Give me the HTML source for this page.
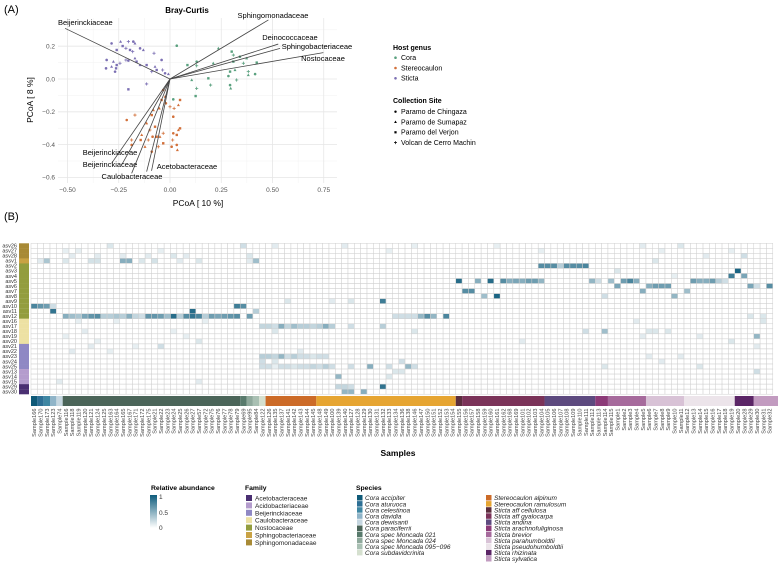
<!DOCTYPE html>
<html><head><meta charset="utf-8"><style>
body{margin:0;background:#fff;}
svg{display:block;font-family:"Liberation Sans",sans-serif;}
</style></head><body>
<svg id="fig" width="778" height="565" viewBox="0 0 778 565" xmlns="http://www.w3.org/2000/svg">
<text x="4" y="13" font-size="11">(A)</text>
<text x="4" y="220" font-size="11">(B)</text>
<g id="pcoa"></g>
<g id="heat"></g>
<g id="legs"></g>
</svg>
<script>
const NS="http://www.w3.org/2000/svg";
function mk(p,t,a,txt){const e=document.createElementNS(NS,t);for(const k in a)e.setAttribute(k,a[k]);if(txt!==undefined)e.textContent=txt;p.appendChild(e);return e;}

// ---------- PCoA data ----------
const xTicks=[-0.5,-0.25,0,0.25,0.5,0.75];
const xTickLabels=["-0.50","-0.25","0.00","0.25","0.50","0.75"];
const yTicks=[0.2,0,-0.2,-0.4,-0.6];
const yTickLabels=["0.2","0.0","-0.2","-0.4","-0.6"];
const genera=["Cora","Stereocaulon","Sticta"];
const genusColors=["#5aa17f","#d2703a","#7b6fb3"];
const sites=["Paramo de Chingaza","Paramo de Sumapaz","Paramo del Verjon","Volcan de Cerro Machin"];
const coraX=[0.033,0.236,0.301,0.309,0.341,0.374,0.423,0.382,0.415,0.317,0.293,0.325,0.285,0.382,0.187,0.198,0.130,0.106,0.085,0.130,0.293,0.296,0.125,0.130,0.016,0.211,0.309,0.358];
const coraY=[0.203,0.187,0.167,0.146,0.136,0.126,0.100,0.045,0.030,0.055,0.045,-0.006,0.018,0.024,0.004,-0.037,0.106,-0.006,0.085,0.081,-0.037,-0.057,-0.104,-0.057,-0.124,0.096,0.106,0.096];
const stereoX=[-0.033,-0.024,-0.041,0.000,-0.020,0.041,0.049,0.020,0.016,-0.052,-0.089,-0.171,-0.211,-0.114,-0.073,-0.098,-0.085,-0.138,-0.143,-0.187,-0.187,-0.049,-0.033,-0.033,0.016,0.041,0.049,0.013,0.033,0.036,0.033,-0.057,-0.089,-0.122,-0.065,-0.106,0.008,-0.081];
const stereoY=[-0.067,-0.108,-0.128,-0.169,-0.148,-0.159,-0.128,-0.179,-0.230,-0.179,-0.220,-0.220,-0.250,-0.270,-0.291,-0.311,-0.352,-0.341,-0.372,-0.372,-0.402,-0.352,-0.392,-0.331,-0.331,-0.311,-0.301,-0.372,-0.402,-0.433,-0.341,-0.413,-0.443,-0.413,-0.352,-0.372,-0.413,-0.189];
const stictaX=[-0.285,-0.241,-0.231,-0.203,-0.179,-0.171,-0.195,-0.182,-0.146,-0.130,-0.260,-0.215,-0.309,-0.276,-0.260,-0.244,-0.312,-0.285,-0.263,-0.215,-0.203,-0.171,-0.163,-0.078,-0.041,-0.073,-0.065,-0.036,-0.024,-0.008,-0.203,-0.114,-0.268,-0.146,-0.114,-0.089];
const stictaY=[0.217,0.228,0.201,0.228,0.228,0.217,0.177,0.167,0.187,0.177,0.177,0.187,0.116,0.106,0.085,0.096,0.065,0.075,0.065,0.116,0.112,0.126,0.106,0.157,0.116,0.075,0.055,0.055,0.035,0.030,-0.063,-0.030,0.045,0.085,0.085,0.045];
const arrowNames=["Beijerinckiaceae","Sphingomonadaceae","Deinococcaceae","Sphingobacteriaceae","Nostocaceae","Beijerinckiaceae","Beijerinckiaceae","Caulobacteraceae","Acetobacteraceae","Acetobacteraceae"];
const arrowX=[-0.512,0.480,0.528,0.537,0.748,-0.285,-0.236,-0.187,-0.114,-0.090];
const arrowY=[0.309,0.360,0.213,0.187,0.161,-0.514,-0.524,-0.575,-0.565,-0.560];
const arrowShowLabel=[1,1,1,1,1,1,1,1,1,0];

const sx=v=>170+v*205, sy=v=>79-v*164;
const P=document.getElementById('pcoa');
mk(P,'text',{x:187,y:13,'font-size':8,'font-weight':'bold','text-anchor':'middle',},'Bray-Curtis');
const px0=58,px1=337,py0=18,py1=183;
for(let i=0;i<xTicks.length;i++){const m=xTicks[i]+0.125;if(sx(m)<px1)mk(P,'line',{x1:sx(m),x2:sx(m),y1:py0,y2:py1,stroke:'#f2f2f2','stroke-width':0.5});}
for(let i=0;i<yTicks.length;i++){const m=yTicks[i]+0.1;mk(P,'line',{x1:px0,x2:px1,y1:sy(m),y2:sy(m),stroke:'#f2f2f2','stroke-width':0.5});}
xTicks.forEach((t,i)=>{
  mk(P,'line',{x1:sx(t),x2:sx(t),y1:py0,y2:py1,stroke:'#e6e6e6','stroke-width':0.8});
  const l=mk(P,'text',{x:sx(t),y:192,'font-size':6.5,fill:'#555','text-anchor':'middle'},xTickLabels[i].replace('-','\u2212'));
  
  
});
yTicks.forEach((t,i)=>{
  mk(P,'line',{x1:px0,x2:px1,y1:sy(t),y2:sy(t),stroke:'#e6e6e6','stroke-width':0.8});
  const l=mk(P,'text',{x:55,y:sy(t)+2.3,'font-size':6.5,fill:'#555','text-anchor':'end'},yTickLabels[i].replace('-','\u2212'));
  
  
});
mk(P,'text',{x:198,y:206,'font-size':8.5,'text-anchor':'middle',},'PCoA [ 10 %]');
mk(P,'text',{x:0,y:0,'font-size':8.5,'text-anchor':'middle',transform:'translate(33,100) rotate(-90)',},'PCoA [ 8 %]');
function pts(xs,ys,col,g){for(let i=0;i<xs.length;i++){const s=i%4,x=sx(xs[i]),y=sy(ys[i]);let e;
  if(s===0)e=mk(P,'circle',{cx:x,cy:y,r:1.3,fill:col});
  else if(s===1)e=mk(P,'path',{d:`M${x},${y-1.6}L${x+1.5},${y+1.1}L${x-1.5},${y+1.1}Z`,fill:col});
  else if(s===2)e=mk(P,'rect',{x:x-1.2,y:y-1.2,width:2.4,height:2.4,fill:col});
  else e=mk(P,'path',{d:`M${x-1.6},${y}H${x+1.6}M${x},${y-1.6}V${y+1.6}`,stroke:col,'stroke-width':0.8});
  
  }}
pts(coraX,coraY,genusColors[0],'cora');pts(stereoX,stereoY,genusColors[1],'stereocaulon');pts(stictaX,stictaY,genusColors[2],'sticta');
const labelPos=[[58,25,'start'],[273,18,'middle'],[290,40,'middle'],[317,49,'middle'],[323,61,'middle'],[110,155,'middle'],[110,167,'middle'],[132,179,'middle'],[187,169,'middle'],[0,0,'middle']];
arrowNames.forEach((n,i)=>{
  const l=mk(P,'line',{x1:sx(0),y1:sy(0),x2:sx(arrowX[i]),y2:sy(arrowY[i]),stroke:'#444','stroke-width':0.8});
  
  
  if(arrowShowLabel[i]){const t=mk(P,'text',{x:labelPos[i][0],y:labelPos[i][1],'font-size':7.5,'text-anchor':labelPos[i][2]},n);
  
  }
});
// legend A
const L=document.getElementById('legs');
mk(L,'text',{x:393,y:50,'font-size':7,'font-weight':'bold',},'Host genus');
genera.forEach((g,i)=>{const y=60+i*10.3;mk(L,'circle',{cx:395.5,cy:y-2.3,r:1.3,fill:genusColors[i]});
  const t=mk(L,'text',{x:401,y:y,'font-size':7},g);
  
  });
mk(L,'text',{x:393,y:103,'font-size':7,'font-weight':'bold',},'Collection Site');
sites.forEach((s,i)=>{const y=114+i*10.3,x=395.5,yy=y-2.3;
  if(i===0)mk(L,'circle',{cx:x,cy:yy,r:1.2,fill:'#000'});
  else if(i===1)mk(L,'path',{d:`M${x},${yy-1.5}L${x+1.4},${yy+1}L${x-1.4},${yy+1}Z`,fill:'#000'});
  else if(i===2)mk(L,'rect',{x:x-1.1,y:yy-1.1,width:2.2,height:2.2,fill:'#000'});
  else mk(L,'path',{d:`M${x-1.5},${yy}H${x+1.5}M${x},${yy-1.5}V${yy+1.5}`,stroke:'#000','stroke-width':0.7});
  const t=mk(L,'text',{x:401,y:y,'font-size':7},s);
  
  });

// ---------- Heatmap data ----------
const asvLabels=["asv26","asv27","asv28","asv1","asv2","asv3","asv4","asv5","asv6","asv7","asv8","asv9","asv10","asv11","asv12","asv16","asv17","asv18","asv19","asv20","asv21","asv22","asv23","asv24","asv25","asv13","asv14","asv15","asv29","asv30"];
const families=["Acetobacteraceae","Acidobacteriaceae","Beijerinckiaceae","Caulobacteraceae","Nostocaceae","Sphingobacteriaceae","Sphingomonadaceae"];
const familyColors=["#4a2f72","#b49ccd","#8f88c4","#ede1a3","#939d3e","#c9a244","#a88a36"];
const rowFamily=[6,6,6,5,4,4,4,4,4,4,4,4,4,4,4,3,3,3,3,3,2,2,2,2,2,1,1,1,0,0];
const sampleIds=[166,170,173,123,74,116,118,119,120,121,124,125,163,164,165,167,171,172,175,21,22,23,24,25,26,27,57,72,75,76,77,78,79,69,95,84,122,126,135,137,141,142,143,144,145,148,149,100,139,140,127,128,129,130,131,132,133,134,136,138,146,147,150,151,152,153,154,155,156,157,158,159,160,161,162,168,169,101,102,103,104,105,106,107,108,109,110,111,112,113,114,115,1,2,3,4,5,6,7,8,9,10,11,12,13,14,15,16,17,18,19,20,28,29,30,31,32];
const speciesNames=["Cora accipiter","Cora aturuoca","Cora celestinoa","Cora davidia","Cora dewisanti","Cora paraciferrii","Cora spec Moncada 021","Cora spec Moncada 024","Cora spec Moncada 095\u2212096","Cora subdavidcrinita","Stereocaulon alpinum","Stereocaulon ramulosum","Sticta aff cellulosa","Sticta aff gyalocarpa","Sticta andina","Sticta arachnofuliginosa","Sticta brevior","Sticta parahumboldtii","Sticta pseudohumboldtii","Sticta rhizinata","Sticta sylvatica"];
const speciesColors=["#0f5a78","#2d6f95","#3f87a3","#8fb4c8","#c5d6e0","#4b6559","#587a6c","#8fa99c","#a9c0b3","#d5e0cf","#cc6b28","#e6a532","#5a2d3d","#7b3359","#5d4a7f","#8c3a78","#a66a9c","#d8c2d6","#ece4ea","#5b2566","#c29bc0"];
const speciesCounts=[1,1,1,1,1,28,1,1,1,1,8,22,1,13,8,2,6,6,8,3,4];
// [row, col, relative abundance]
const cells=[
[0,12,.15],[0,33,.2],[0,38,.12],[0,49,.12],[0,60,.1],[0,73,.1],[0,96,.12],[0,102,.15],
[1,5,.1],[1,7,.1],[1,20,.1],[1,56,.1],[1,80,.1],[1,99,.1],[1,110,.1],
[2,6,.12],[2,10,.12],[2,14,.12],[2,18,.12],[2,22,.15],[2,24,.12],[2,34,.15],[2,112,.2],[2,106,.12],
[3,1,.12],[3,2,.35],[3,5,.15],[3,9,.18],[3,10,.18],[3,14,.5],[3,15,.5],[3,17,.15],[3,19,.18],[3,23,.12],[3,26,.15],[3,34,.12],[3,35,.4],[3,98,.15],
[4,80,.7],[4,81,.7],[4,82,.7],[4,83,.3],[4,84,.7],[4,85,.7],[4,86,.7],[4,87,.75],
[5,111,.95],[5,92,.15],
[6,110,.8],[6,112,.55],[6,101,.1],
[7,67,.9],[7,70,.5],[7,72,.9],[7,74,.7],[7,75,.5],[7,76,.55],[7,77,.5],[7,78,.6],[7,79,.6],[7,80,.45],[7,88,.45],[7,89,.2],[7,91,.4],[7,93,.6],[7,94,.75],[7,95,.5],[7,104,.6],[7,105,.5],[7,106,.5],[7,107,.6],[7,108,.3],[7,109,.2],
[8,92,.55],[8,97,.5],[8,98,.6],[8,99,.6],[8,100,.6],[8,113,.55],[8,114,.2],[8,116,.7],
[9,68,.7],[9,69,.7],[9,96,.5],[9,103,.4],
[10,71,.4],[10,73,.95],[10,90,.2],[10,101,.45],
[11,55,.8],[11,40,.15],[11,50,.15],[11,47,.12],
[12,0,.75],[12,1,.65],[12,2,.6],[12,3,.2],[12,32,.8],[12,33,.7],
[13,3,.85],[13,25,.9],[13,35,.3],
[14,5,.5],[14,6,.4],[14,7,.35],[14,8,.55],[14,9,.65],[14,10,.7],[14,11,.3],[14,12,.3],[14,13,.35],[14,14,.3],[14,15,.5],[14,16,.25],[14,17,.2],[14,18,.65],[14,19,.65],[14,20,.6],[14,21,.4],[14,22,.9],[14,23,.3],[14,24,.7],[14,25,.85],[14,26,.75],[14,27,.3],[14,28,.6],[14,29,.55],[14,30,.6],[14,31,.65],[14,32,.7],[14,34,.6],
[14,57,.2],[14,58,.2],[14,59,.2],[14,60,.2],[14,61,.45],[14,62,.7],[14,63,.45],[14,65,.75],[14,113,.15],[14,115,.15],
[15,7,.1],[15,13,.1],[15,27,.1],[15,95,.12],[15,115,.15],
[16,36,.25],[16,37,.25],[16,38,.2],[16,39,.5],[16,40,.25],[16,41,.4],[16,42,.3],[16,43,.3],[16,44,.25],[16,45,.3],[16,46,.5],[16,47,.3],[16,55,.3],[16,50,.2],
[17,38,.15],[17,90,.4],[17,87,.2],[17,60,.15],[17,8,.12],[17,22,.1],[17,97,.15],[17,98,.15],[17,100,.15],
[18,5,.1],[18,24,.1],[18,96,.12],[18,105,.12],[18,114,.45],
[19,10,.1],[19,26,.15],[19,110,.15],[19,77,.12],
[20,9,.12],[20,16,.1],[20,20,.2],[20,114,.12],
[21,6,.12],[21,12,.1],[21,42,.12],
[22,36,.3],[22,37,.3],[22,38,.25],[22,39,.45],[22,40,.2],[22,41,.3],[22,42,.2],[22,43,.2],[22,44,.15],[22,45,.2],[22,46,.2],[22,97,.12],[22,102,.12],
[23,36,.2],[23,38,.15],[23,58,.2],[23,99,.12],
[24,36,.2],[24,37,.2],[24,38,.1],[24,39,.2],[24,40,.2],[24,41,.15],[24,42,.2],[24,43,.2],[24,44,.25],[24,45,.2],[24,46,.3],[24,47,.2],[24,50,.2],[24,53,.5],[24,56,.2],[24,59,.45],[24,60,.2],[24,90,.15],[24,105,.15],
[25,58,.15],[25,57,.15],[25,114,.2],
[26,48,.45],[26,56,.15],
[27,26,.12],[27,4,.12],
[28,48,.25],[28,49,.25],[28,50,.2],[28,55,.85],
[29,49,.45],[29,50,.45],[29,52,.5]
];

const H=document.getElementById('heat');
const hx0=31,cw=6.34,hy0=243.3,rh=5.03,nCols=sampleIds.length,nRows=asvLabels.length;
function col(v){const a=[255,255,255],b=[14,92,124];const t=Math.max(0,Math.min(1,v));return `rgb(${a.map((c,i)=>Math.round(c+(b[i]-c)*t)).join(',')})`;}
const val=[];for(let r=0;r<nRows;r++)val.push(new Array(nCols).fill(0));
cells.forEach(c=>{if(c[0]<nRows&&c[1]<nCols)val[c[0]][c[1]]=c[2];});
for(let r=0;r<nRows;r++){
  const lab=mk(H,'text',{x:17,y:hy0+r*rh+rh*0.85,'font-size':5.5,'text-anchor':'end',fill:'#333'},asvLabels[r]);
  
  
  const f=mk(H,'rect',{x:19,y:hy0+r*rh,width:10,height:rh+0.1,fill:familyColors[rowFamily[r]]});
  
  
  for(let c=0;c<nCols;c++){
    const e=mk(H,'rect',{x:hx0+c*cw,y:hy0+r*rh,width:cw,height:rh,fill:col(val[r][c]),stroke:'#cfcfcf','stroke-width':0.5});
    
    
  }
}
let ci=0;
speciesCounts.forEach((n,i)=>{
  const e=mk(H,'rect',{x:hx0+ci*cw,y:396,width:n*cw,height:10,fill:speciesColors[i]});
  
  
  ci+=n;});
sampleIds.forEach((s,c)=>{
  const x=hx0+c*cw+cw/2+2;
  const t=mk(H,'text',{x:0,y:0,'font-size':5.6,fill:'#444','text-anchor':'end',transform:`translate(${x},408.5) rotate(-90)`},'Sample'+s);
  
  });
mk(H,'text',{x:398,y:456,'font-size':8.5,'font-weight':'bold','text-anchor':'middle',},'Samples');

// legend B
const defs=mk(L,'defs',{});const gr=mk(defs,'linearGradient',{id:'ra',x1:0,y1:1,x2:0,y2:0});
mk(gr,'stop',{offset:0,'stop-color':'#fff'});mk(gr,'stop',{offset:1,'stop-color':'#0e5c7c'});
mk(L,'text',{x:151,y:490,'font-size':6.8,'font-weight':'bold',},'Relative abundance');
mk(L,'rect',{x:150,y:495,width:7,height:33,fill:'url(#ra)',});
[['1',499],['0.5',515],['0',530]].forEach(a=>{const t=mk(L,'text',{x:159,y:a[1],'font-size':6.5,fill:'#333'},a[0]);
  
  });
mk(L,'text',{x:245,y:490,'font-size':6.8,'font-weight':'bold',},'Family');
families.forEach((f,i)=>{const y=495+i*7.4;mk(L,'rect',{x:246,y:y,width:6,height:6,fill:familyColors[i]});
  const t=mk(L,'text',{x:255,y:y+5.5,'font-size':6.5,fill:'#222'},f);
  
  });
mk(L,'text',{x:356,y:490,'font-size':6.8,'font-weight':'bold',},'Species');
speciesNames.forEach((s,i)=>{const c=i<10?0:1,k=i<10?i:i-10;const x=c?486:357,y=495+k*6.1;
  mk(L,'rect',{x:x,y:y,width:5.5,height:5.5,fill:speciesColors[i]});
  const t=mk(L,'text',{x:x+8,y:y+5.2,'font-size':6.5,'font-style':'italic',fill:'#222'},s);
  
  });
</script>
</body></html>
